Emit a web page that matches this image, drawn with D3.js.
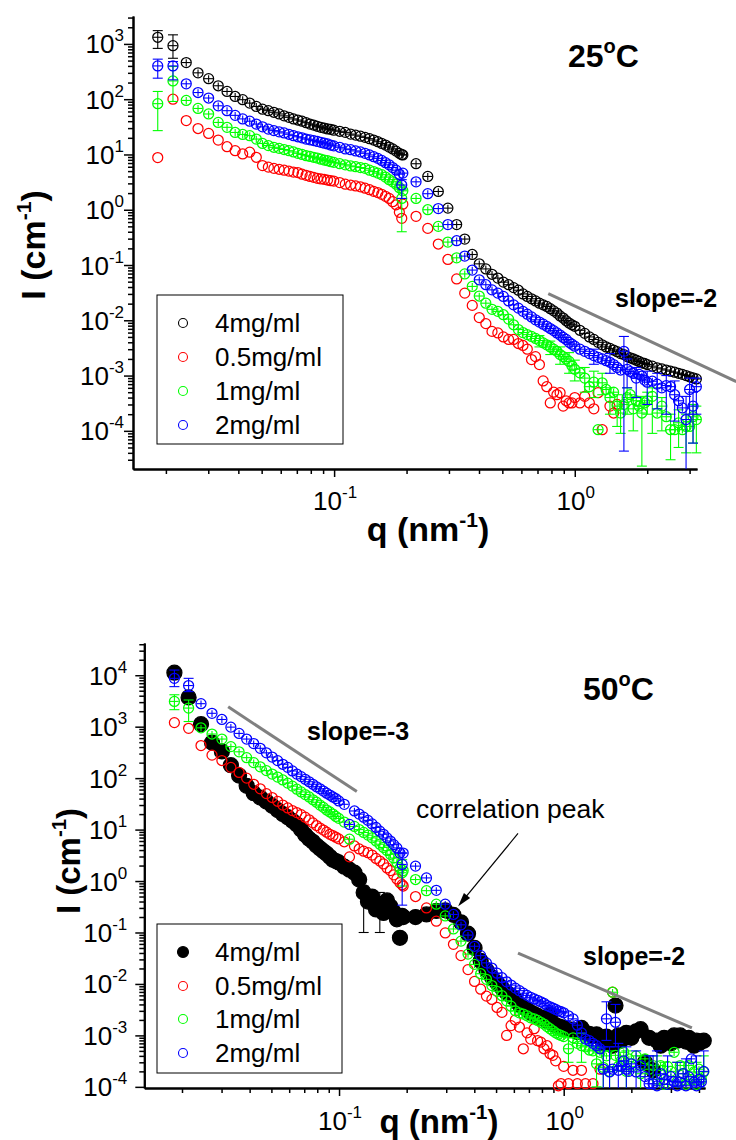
<!DOCTYPE html>
<html><head><meta charset="utf-8">
<script src="https://cdn.jsdelivr.net/npm/d3@7"></script>
<style>
body{margin:0;background:#fff}
svg{display:block}
text{font-family:"Liberation Sans",Arial,Helvetica,sans-serif;fill:#000}
</style>
</head><body>
<svg id="c" width="736" height="1140"></svg>
<script>
// ---------------- DATA ----------------
const seriesNames  = ["4mg/ml","0.5mg/ml","1mg/ml","2mg/ml"];
const seriesColors = ["#000000","#ff0000","#00ff00","#0000ff"];

// q grid (nm^-1): low-q configuration and high-q configuration
const qLow = [0.0185,0.0214,0.0243,0.0272,0.0301,0.0330,0.0359,0.0388,0.0417,0.0446,0.0475,0.0504,0.0533,0.0562,0.0591,0.0620,0.0649,0.0678,0.0707,0.0736,0.0765,0.0794,0.0823,0.0852,0.0881,0.0910,0.0939,0.0968,0.0997,
  0.1055,0.1113,0.1171,0.1229,0.1287,0.1345,0.1403,0.1461,0.1519,0.1577,0.1635,0.1693,0.1751,0.1809,0.1867,0.191];
const qHighTop = [0.193,0.219,0.245,0.271,0.297,0.323,0.349,0.375,0.401,0.427,0.453,0.479,0.505,0.531,0.557,0.583,0.609,0.635,0.661,0.687,0.713,0.739,0.765,0.791,0.817,0.843,0.869,0.895,0.921,0.947,0.973,
  1.0,1.05,1.1,1.15,1.2,1.25,1.3,1.35,1.4,1.45,1.5,1.55,1.6,1.65,1.7,1.75,1.8,1.85,1.9,1.95,2.0,
  2.1,2.2,2.3,2.4,2.5,2.6,2.7,2.8,2.9,3.0,3.1,3.2];
const qHighExtra = [3.3,3.4,3.5,3.6,3.7,3.8,3.9,4.0,4.1,4.2];

// ---- 25 C : I (cm^-1)
const topBlackLow = [1320,930,460,300,235,175,138,112,98,85,74,66,62,58,54,50,47,44,42,40,37.6,35.5,34,32.4,31,30,29,28.5,27.5,
  26.3,25.1,23.4,22.4,21.4,20.4,19.3,18.2,17,15.8,14.8,13.6,12.6,11.5,10.5,9.9];
const topBlackHigh = [9.8,6.8,4.0,2.14,1.07,0.54,0.295,0.155,0.105,0.085,0.068,0.058,0.049,0.044,0.039,0.035,0.030,0.027,0.0245,0.0224,0.0204,0.019,0.0178,0.0162,0.0148,0.0135,0.012,0.011,0.0098,0.0089,0.0083,
  0.0078,0.0066,0.0058,0.0050,0.0045,0.0040,0.0036,0.0033,0.0031,0.0029,0.0027,0.0025,0.0024,0.0022,0.0021,0.0020,0.0019,0.0018,0.0017,0.00166,0.00158,
  0.00148,0.00138,0.00132,0.00126,0.0012,0.00115,0.0011,0.00105,0.0010,0.00095,0.00091,0.00087];
const topRedLow = [8.8,100,41,29.5,24,18.2,13.8,11.7,10.2,11,8.9,6.3,5.9,5.6,5.4,5.2,5.0,4.8,4.7,4.4,4.2,4.0,3.85,3.7,3.6,3.55,3.45,3.35,3.3,
  3.1,2.9,2.8,2.7,2.6,2.45,2.3,2.15,2.05,1.9,1.75,1.6,1.4,1.23,0.9,0.7];
const topRedHigh = [1.26,0.76,0.46,0.24,0.126,0.056,0.031,0.0186,0.0112,0.0087,0.0063,0.0059,0.005,0.0045,0.0045,0.0038,0.0035,0.003,0.00195,0.0022,0.00158,0.0008,0.00063,0.00032,0.0005,0.00045,0.00049,0.00028,0.00035,0.00032,0.00032,
  0.0004,0.00032,0.00042,0.00032,0.00025,0.00049,0.000105,null,0.00028,0.00021,0.0003,null,null,null,null,null,null,null,null,null,null,
  null,null,null,null,null,null,null,null,null,null,null,null];
const topGreenLow = [83,214,95,68,54,38,31,25,23,21.9,19,15.8,14.5,13.5,12.9,12.3,11.7,11.1,10.5,10,9.5,9.2,8.9,8.6,8.2,7.9,7.7,7.4,7.2,
  6.8,6.5,6.2,6.0,5.8,5.6,5.2,4.9,4.6,4.3,3.9,3.5,3.2,2.9,2.5,1.6];
const topGreenHigh = [2.2,1.6,1.0,0.5,0.26,0.135,0.069,0.041,0.0275,0.0204,0.0158,0.0145,0.0126,0.0105,0.0083,0.0068,0.006,0.0055,0.0051,0.0047,0.0043,0.0039,0.0036,0.0033,0.003,0.00275,0.0024,0.0022,0.002,0.0018,0.0015,
  0.0013,0.00112,0.0009,0.00063,0.00076,0.000105,0.00074,0.00056,0.0004,0.0005,0.00028,0.00021,0.0003,0.0004,0.00045,0.00025,0.00035,0.00028,0.00021,0.00032,0.00035,
  0.00042,0.00021,0.00028,0.00018,0.000105,0.000105,0.00014,0.000105,0.00012,0.00012,0.00018,0.00016];
const topBlueLow = [400,400,190,132,105,76,62,51,44,40,35.5,31.6,28.8,27,25.7,24.5,23.2,21.9,20.9,20,19,18.4,17.8,17.2,16.6,16,15.5,14.8,14.3,
  13.5,12.6,12.2,11.6,11.1,10.5,9.8,9.1,8.5,7.8,7.1,6.5,5.8,5.2,4.4,2.8];
const topBlueHigh = [4.6,3.2,1.95,1.05,0.54,0.275,0.145,0.081,0.054,0.044,0.0355,0.031,0.027,0.0224,0.019,0.0166,0.0145,0.0129,0.0115,0.0102,0.0093,0.0085,0.0078,0.0071,0.0065,0.0059,0.0054,0.0049,0.0045,0.0040,0.0037,
  0.0034,0.0030,0.00275,0.0025,0.0023,0.00214,0.0020,0.00186,0.00174,0.00158,0.0014,0.00126,0.00275,0.0013,0.00118,0.0011,0.0009,0.00105,0.00098,0.00083,0.00076,
  0.00079,0.0007,0.0006,0.00066,0.00063,0.00045,0.00035,0.00026,0.00016,0.00056,0.00028,0.00063];

// error bars [q, low, high]
const errTopBlack = [[0.0185,830,1740],[0.0214,550,1460]];
const errTopRed = [];
const errTopGreen = [[0.0185,27,138],[0.0214,91,390],[0.191,0.4,2.3],[0.713,0.0033,0.0053],[0.791,0.0024,0.0042],[0.869,0.0016,0.0033],[0.947,0.0011,0.0026],[1.0,0.0008,0.0019],[1.1,0.0005,0.0014],[1.2,0.0004,0.0012],[1.3,0.00045,0.0011],[1.4,0.0002,0.0006],[1.5,0.00012,0.00045],[1.55,0.00009,0.00034],[1.65,0.0002,0.0006],[1.75,0.0001,0.0004],[1.9,0.000023,0.00042],[2.0,0.0002,0.0005],[2.1,0.00009,0.0006],[2.3,0.0001,0.0004],[2.5,0.00003,0.0002],[2.7,0.00005,0.00024],[2.9,0.00004,0.0002],[3.1,0.00006,0.0003],[3.2,0.00004,0.00028]];
const errTopBlue = [[0.0185,240,530],[0.0214,224,480],[0.191,1.6,3.5],[1.2,0.0016,0.003],[1.4,0.0011,0.0025],[1.6,0.000043,0.0051],[1.65,0.0006,0.002],[1.8,0.0004,0.0014],[2.0,0.0003,0.0012],[2.2,0.00025,0.0011],[2.4,0.0002,0.001],[2.6,0.00015,0.0008],[2.9,0.00001,0.00042],[3.0,0.0002,0.0009],[3.1,0.00006,0.0005],[3.2,0.0002,0.0009]];

// ---- 50 C : I (cm^-1)
const botBlackLow = [11200,3700,1120,490,330,178,112,71,51,42,35,29,24,20,17.4,14.8,12.6,10,7.9,6.6,5.8,4.9,4.3,3.8,3.4,2.95,2.6,2.45,2.3,
  1.9,1.66,1.45,1.07,0.6,0.4,0.5,0.28,0.355,0.24,0.42,0.32,0.25,0.18,0.079,0.21];
const botBlackHigh = [0.2,0.2,0.224,0.263,0.27,0.22,0.158,0.095,0.05,0.028,0.0186,0.0135,0.0105,0.0083,0.0068,0.0059,0.005,0.004,0.00355,0.0032,0.0028,0.0026,0.0024,0.0022,0.0021,0.0019,0.0025,0.00166,0.00158,0.0015,0.00145,
  0.00138,0.00132,0.00126,0.00117,0.0014,0.00112,0.00107,0.001,0.00105,0.0009,0.0007,0.00095,0.00079,0.00063,0.0038,0.001,0.00079,0.0009,0.00112,0.001,0.0009,
  0.0012,0.00132,0.0003,0.0009,0.00021,0.00079,0.00063,0.0009,0.00079,0.0007,0.001,0.00079,
  0.001,0.0009,0.00076,0.0009,0.0007,0.00063,0.00079,0.0007,0.00076,0.00079];
const botRedLow = [1200,930,430,280,220,162,129,100,76,62,50,42,35.5,30,26.3,23.4,21.4,19.5,17.4,15.5,13.5,12,10.7,9.8,8.9,8.1,7.6,7.1,6.6,
  5.8,2.95,4.8,4.2,3.8,3.55,3.2,2.75,2.45,2.15,1.8,1.6,1.32,1.1,0.93,0.85];
const botRedHigh = [0.8,0.5,0.3,0.166,0.098,0.059,0.0355,0.019,0.0112,0.0079,0.0058,0.005,0.0035,0.0028,0.001,0.00155,0.002,0.00145,0.00055,0.00112,0.00085,0.00135,0.00079,0.00074,0.00055,0.00063,0.00044,0.00041,0.00032,0.000105,0.000115,
  0.00025,0.000115,0.00021,0.000115,0.00021,0.000115,null,0.000115,null,0.00022,null,null,null,0.0069,null,null,null,null,null,null,null,
  null,null,null,null,null,null,null,null,null,null,null,null,
  null,null,null,null,null,null,null,null,null,null];
const botGreenLow = [3100,2300,950,720,575,410,325,250,200,166,140,120,105,92,80,70,61,54,48,43,38,34,30,27,24,22,20,18,16.5,
  14,6.5,11.5,10,8.8,7.8,6.9,6.0,5.2,4.5,3.9,3.3,2.8,2.3,1.8,1.45];
const botGreenHigh = [1.6,1.07,0.65,0.355,0.21,0.117,0.068,0.038,0.024,0.0158,0.0123,0.0093,0.0072,0.0059,0.0047,0.0037,0.003,0.00275,0.0026,0.0024,0.0022,0.0021,0.00195,0.0018,0.00166,0.00148,0.00135,0.00123,0.00112,0.00105,0.001,
  0.00095,0.00055,0.0009,0.0007,0.00063,0.0006,0.00052,0.0005,0.00028,0.00047,0.00024,0.0004,0.0002,0.0069,0.00041,0.00025,0.00032,0.00047,0.0002,0.00035,0.00025,
  0.0004,0.00018,0.00035,0.00022,0.00026,0.00014,0.00026,0.000112,0.00025,0.0002,0.00047,0.000126,
  0.00026,0.00018,0.000112,0.00026,0.00014,0.000195,0.000112,0.00022,0.00014,0.000195];
const botBlueLow = [8700,6300,2800,1820,1380,980,740,575,470,380,310,257,219,186,162,138,120,107,95,85,76,68,62,56,51,47,43,40,36,
  31,12.6,23,20,17.4,15.1,12.9,11,9.3,8.1,6.9,6.0,5.1,4.4,3.5,2.1];
const botBlueHigh = [3.5,1.95,1.15,0.66,0.355,0.224,0.141,0.089,0.054,0.0355,0.0257,0.0204,0.0162,0.0132,0.011,0.0095,0.0083,0.0074,0.0066,0.006,0.0055,0.0051,0.0048,0.0045,0.0042,0.0038,0.0036,0.0034,0.0032,0.003,0.0029,
  0.00275,0.0024,0.0021,0.00158,0.00112,0.00085,0.00079,0.0007,0.00063,0.00055,0.00022,0.0021,0.000195,0.00022,0.0018,0.00021,0.00025,0.00032,0.00022,0.0002,0.00028,
  0.000195,0.00026,0.000158,0.000115,0.000115,0.000105,0.00018,0.00014,0.000112,0.000158,0.000126,0.000105,
  0.000123,0.00018,0.000105,0.000158,0.00035,0.000123,0.000105,0.00014,0.000126,0.0002];

const errBotBlack = [[0.1287,0.1,0.8],[0.1519,0.1,0.6]];
const errBotRed = [];
const errBotGreen = [[0.0185,2140,4170],[0.0214,1260,3300],[0.191,0.8,2.6],[1.05,0.0003,0.0009],[1.2,0.0003,0.0011],[1.4,0.0001,0.0006],[1.5,0.00008,0.0005],[1.6,0.00006,0.0005],[1.9,0.00005,0.0005],[2.2,0.00005,0.0004],[2.6,0.00003,0.0004],[2.8,0.00003,0.0003],[3.2,0.00004,0.0003],[3.5,0.00003,0.0003],[3.9,0.00003,0.0003],[4.2,0.00005,0.0004]];
const errBotBlue = [[0.0185,6000,12600],[0.0214,4800,8700],[0.191,0.34,3.5],[1.5,0.00002,0.0006],[1.55,0.0008,0.0045],[1.6,0.00002,0.0006],[1.7,0.0006,0.004],[1.75,0.00002,0.0007],[1.9,0.00005,0.0006],[2.1,0.00003,0.0005],[2.4,0.00002,0.0004],[2.5,0.00003,0.0004],[2.6,0.00002,0.0005],[2.9,0.00003,0.0004],[3.2,0.00002,0.0003],[3.5,0.00003,0.00035],[3.9,0.00002,0.0004],[4.2,0.00005,0.0005]];

// annotation lines (data coordinates)
const topSlope2 = {q:[0.776,4.69], I:[0.0303,0.00078]};
const botSlope3 = {q:[0.0321,0.120], I:[2430,54.7]};
const botSlope2 = {q:[0.626,3.72], I:[0.0397,0.0014]};
const peakArrow = {q:[0.626,0.339], I:[8.4,0.323]};

// ---------------- DRAWING ----------------
const svg = d3.select('#c');
const smallYErr = 0.15, smallQErr = 0.045;

function makeSeries(qArr, vals, err, idx, filled) {
  const pts = [];
  const n = Math.min(qArr.length, vals.length);
  for (let i = 0; i < n; i++) if (vals[i] != null) pts.push({q: qArr[i], I: vals[i]});
  const em = new Map(err.map(e => [e[0], [e[1], e[2]]]));
  pts.forEach(p => { if (em.has(p.q)) p.err = em.get(p.q); });
  return {name: seriesNames[idx], color: seriesColors[idx], pts, filled, bars: idx !== 1};
}

function drawPanel(p) {
  const x = d3.scaleLog().domain(p.qDomain).range([p.left, p.right]);
  const y = d3.scaleLog().domain(p.iDomain).range([p.bottom, p.top]);
  const g = svg.append('g');

  const tick = (dom) => {
    const major = [], minor = [];
    const lo = Math.floor(Math.log10(dom[0])), hi = Math.ceil(Math.log10(dom[1]));
    for (let d = lo; d <= hi; d++) {
      const v = +Math.pow(10, d).toPrecision(6);
      if (v >= dom[0] && v <= dom[1]) major.push(v);
      for (let k = 2; k < 10; k++) {
        const m = +(k * Math.pow(10, d)).toPrecision(6);
        if (m >= dom[0] && m <= dom[1]) minor.push(m);
      }
    }
    return {major, minor};
  };
  const yt = tick(p.iDomain), xt = tick(p.qDomain);

  const styleAxis = sel => {
    sel.selectAll('path.domain').attr('stroke', '#000').attr('stroke-width', 2);
    sel.selectAll('.tick line').attr('stroke', '#000').attr('stroke-width', 1.5);
    sel.selectAll('.tick text').remove();
  };
  g.append('g').attr('transform', `translate(${p.left},0)`)
    .call(d3.axisLeft(y).tickValues(yt.minor).tickSize(5).tickSizeOuter(0).tickFormat(() => '')).call(styleAxis);
  g.append('g').attr('transform', `translate(${p.left},0)`)
    .call(d3.axisLeft(y).tickValues(yt.major).tickSize(9).tickSizeOuter(0).tickFormat(() => '')).call(styleAxis);
  g.append('g').attr('transform', `translate(0,${p.bottom})`)
    .call(d3.axisBottom(x).tickValues(xt.minor).tickSize(5).tickSizeOuter(0).tickFormat(() => '')).call(styleAxis);
  g.append('g').attr('transform', `translate(0,${p.bottom})`)
    .call(d3.axisBottom(x).tickValues(xt.major).tickSize(8).tickSizeOuter(0).tickFormat(() => '')).call(styleAxis);

  const pow = (sel, v) => {
    const e = Math.round(Math.log10(v));
    sel.append('tspan').text('10');
    sel.append('tspan').attr('font-size', 17).attr('dy', -12).text(String(e));
  };
  yt.major.forEach(v => {
    const t = g.append('text').attr('x', p.left - p.yLabGap).attr('y', y(v) + 9.5)
      .attr('text-anchor', 'end').attr('font-size', 26);
    pow(t, v);
  });
  xt.major.forEach(v => {
    const t = g.append('text').attr('x', x(v) + 1).attr('y', p.bottom + p.xLabGap)
      .attr('text-anchor', 'middle').attr('font-size', 26);
    pow(t, v);
  });

  const yT = g.append('text').attr('transform', `translate(${p.yTitle[0]},${p.yTitle[1]}) rotate(-90)`)
    .attr('text-anchor', 'middle').attr('font-size', p.titleSize).attr('font-weight', 'bold');
  yT.append('tspan').text('I (cm');
  yT.append('tspan').attr('font-size', p.titleSize * 0.62).attr('dy', -14).text('-1');
  yT.append('tspan').attr('dy', 14).text(')');
  const xT = g.append('text').attr('x', p.xTitle[0]).attr('y', p.xTitle[1])
    .attr('text-anchor', 'middle').attr('font-size', p.titleSize).attr('font-weight', 'bold');
  xT.append('tspan').text('q (nm');
  xT.append('tspan').attr('font-size', p.titleSize * 0.62).attr('dy', -14).text('-1');
  xT.append('tspan').attr('dy', 14).text(')');

  const yMin = p.iDomain[0];
  p.series.forEach(s => {
    const sg = g.append('g');
    if (s.bars) {
      s.pts.forEach(d => {
        const cx = x(d.q), cy = y(d.I);
        sg.append('line').attr('x1', x(d.q * (1 - smallQErr))).attr('x2', x(d.q * (1 + smallQErr)))
          .attr('y1', cy).attr('y2', cy).attr('stroke', s.color).attr('stroke-width', 1.1);
        const lo = d.err ? d.err[0] : d.I * (1 - smallYErr);
        const hi = d.err ? d.err[1] : d.I * (1 + smallYErr);
        const yl = y(Math.max(lo, yMin)), yh = y(hi);
        sg.append('line').attr('x1', cx).attr('x2', cx).attr('y1', yl).attr('y2', yh)
          .attr('stroke', s.color).attr('stroke-width', 1.1);
        if (d.err) {
          if (lo >= yMin) sg.append('line').attr('x1', cx - 5).attr('x2', cx + 5).attr('y1', yl).attr('y2', yl)
            .attr('stroke', s.color).attr('stroke-width', 1.1);
          sg.append('line').attr('x1', cx - 5).attr('x2', cx + 5).attr('y1', yh).attr('y2', yh)
            .attr('stroke', s.color).attr('stroke-width', 1.1);
        }
      });
    }
    sg.selectAll('circle').data(s.pts).join('circle')
      .attr('cx', d => x(d.q)).attr('cy', d => y(d.I))
      .attr('r', s.filled ? p.filledR : p.r)
      .attr('fill', s.filled ? s.color : 'none')
      .attr('stroke', s.color).attr('stroke-width', 1.25);
  });

  p.slopes.forEach(L => {
    g.append('line').attr('x1', x(L.q[0])).attr('y1', y(L.I[0])).attr('x2', x(L.q[1])).attr('y2', y(L.I[1]))
      .attr('stroke', '#808080').attr('stroke-width', 3);
  });

  const lg = g.append('g');
  lg.append('rect').attr('x', p.legend.x).attr('y', p.legend.y).attr('width', p.legend.w).attr('height', p.legend.h)
    .attr('fill', 'none').attr('stroke', '#000').attr('stroke-width', 1);
  p.series.forEach((s, i) => {
    const ly = p.legend.rows[i];
    lg.append('circle').attr('cx', p.legend.x + 26).attr('cy', ly)
      .attr('r', s.filled ? 5.5 : 4.5).attr('fill', s.filled ? s.color : 'none')
      .attr('stroke', s.color).attr('stroke-width', 1.1);
    lg.append('text').attr('x', p.legend.x + 58).attr('y', ly + 9).attr('font-size', 26).text(s.name);
  });

  const tl = g.append('text').attr('x', p.temp.x).attr('y', p.temp.y).attr('font-size', 32).attr('font-weight', 'bold');
  tl.append('tspan').text(p.temp.t);
  tl.append('tspan').attr('font-size', 20).attr('dy', -14).text('o');
  tl.append('tspan').attr('dy', 14).text('C');

  p.notes.forEach(n => {
    g.append('text').attr('x', n.x).attr('y', n.y).attr('font-size', n.size)
      .attr('font-weight', n.bold ? 'bold' : 'normal').text(n.t);
  });
  return {x, y, g};
}

drawPanel({
  left: 133, right: 697, top: 16, bottom: 469,
  qDomain: [0.0146, 3.22], iDomain: [2.04e-5, 3200],
  yLabGap: 9, xLabGap: 41, titleSize: 34,
  yTitle: [45, 245], xTitle: [428, 541],
  r: 5, filledR: 5,
  series: [
    makeSeries(qLow.concat(qHighTop), topBlackLow.concat(topBlackHigh), errTopBlack, 0, false),
    makeSeries(qLow.concat(qHighTop), topRedLow.concat(topRedHigh), errTopRed, 1, false),
    makeSeries(qLow.concat(qHighTop), topGreenLow.concat(topGreenHigh), errTopGreen, 2, false),
    makeSeries(qLow.concat(qHighTop), topBlueLow.concat(topBlueHigh), errTopBlue, 3, false)
  ],
  slopes: [topSlope2],
  legend: {x: 157, y: 295, w: 186, h: 149, rows: [323, 357, 391, 425]},
  temp: {x: 568, y: 67, t: '25'},
  notes: [{x: 615, y: 307, t: 'slope=-2', size: 25, bold: true}]
});

const qHighBot = qHighTop.concat(qHighExtra);
const botPanel = drawPanel({
  left: 144.3, right: 705, top: 643, bottom: 1088,
  qDomain: [0.01359, 4.255], iDomain: [9.5e-5, 4.23e4],
  yLabGap: 17, xLabGap: 42, titleSize: 33,
  yTitle: [80, 861], xTitle: [439, 1133],
  r: 5, filledR: 7.5,
  series: [
    makeSeries(qLow.concat(qHighBot), botBlackLow.concat(botBlackHigh), errBotBlack, 0, true),
    makeSeries(qLow.concat(qHighBot), botRedLow.concat(botRedHigh), errBotRed, 1, false),
    makeSeries(qLow.concat(qHighBot), botGreenLow.concat(botGreenHigh), errBotGreen, 2, false),
    makeSeries(qLow.concat(qHighBot), botBlueLow.concat(botBlueHigh), errBotBlue, 3, false)
  ],
  slopes: [botSlope3, botSlope2],
  legend: {x: 157, y: 924, w: 185, h: 149, rows: [952, 986, 1019, 1053]},
  temp: {x: 583, y: 700, t: '50'},
  notes: [
    {x: 307, y: 740, t: 'slope=-3', size: 25, bold: true},
    {x: 583, y: 965, t: 'slope=-2', size: 25, bold: true},
    {x: 416, y: 818, t: 'correlation peak', size: 26.5, bold: false}
  ]
});

(function () {
  const {x, y, g} = botPanel;
  const x1 = x(peakArrow.q[0]), y1 = y(peakArrow.I[0]), x2 = x(peakArrow.q[1]), y2 = y(peakArrow.I[1]);
  const ang = Math.atan2(y2 - y1, x2 - x1), L = 14, W = 4;
  g.append('line').attr('x1', x1).attr('y1', y1).attr('x2', x2 - Math.cos(ang) * 6).attr('y2', y2 - Math.sin(ang) * 6)
    .attr('stroke', '#000').attr('stroke-width', 1.2);
  const bx = x2 - Math.cos(ang) * L, by = y2 - Math.sin(ang) * L;
  const px = -Math.sin(ang) * W, py = Math.cos(ang) * W;
  g.append('path').attr('d', `M${x2},${y2}L${bx + px},${by + py}L${bx - px},${by - py}Z`).attr('fill', '#000');
})();
</script>
</body></html>
